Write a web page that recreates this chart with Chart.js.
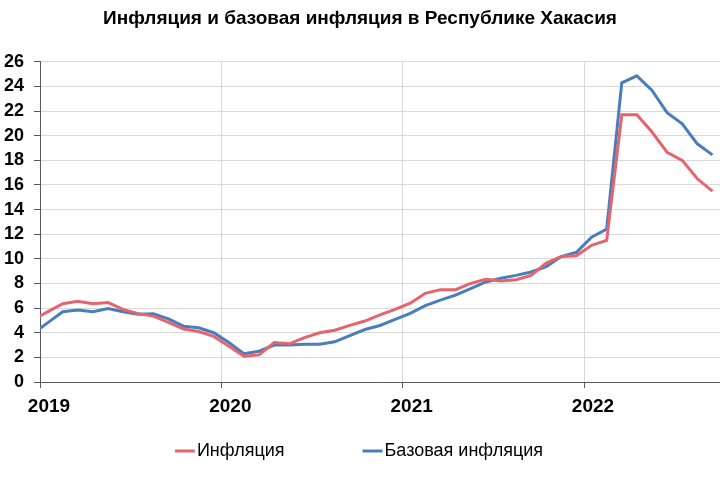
<!DOCTYPE html>
<html>
<head>
<meta charset="utf-8">
<script src="https://cdn.jsdelivr.net/npm/chart.js@4"></script>
<style>
  html, body { margin: 0; padding: 0; background: #fff; }
</style>
</head>
<body>
<canvas id="canvas" width="720" height="480"></canvas>
<script>
// monthly values, first one is Dec 2018 (mostly cut off by the axis), last Sep 2022
var firstMonth = -1; // months from Jan 2019
var years = ['2019', '2020', '2021', '2022'];
var inflation = [5.0,
  5.7, 6.35, 6.55, 6.35, 6.45, 5.9, 5.55, 5.35, 4.85, 4.3, 4.1, 3.7,
  2.9, 2.1, 2.2, 3.2, 3.1, 3.6, 4.0, 4.2, 4.6, 4.95, 5.45, 5.9,
  6.4, 7.2, 7.5, 7.5, 8.0, 8.35, 8.2, 8.3, 8.65, 9.65, 10.2, 10.25,
  11.1, 11.5, 21.7, 21.7, 20.3, 18.65, 18.0, 16.5, 15.5];
var coreInflation = [3.9,
  4.8, 5.7, 5.84, 5.7, 5.97, 5.7, 5.5, 5.54, 5.13, 4.53, 4.4, 4.0,
  3.2, 2.3, 2.5, 3.0, 3.0, 3.07, 3.07, 3.26, 3.77, 4.26, 4.59, 5.08,
  5.57, 6.2, 6.65, 7.05, 7.58, 8.12, 8.42, 8.66, 8.93, 9.37, 10.19, 10.53,
  11.76, 12.41, 24.29, 24.86, 23.68, 21.87, 20.97, 19.34, 18.44];
var yTicks = [0, 2, 4, 6, 8, 10, 12, 14, 16, 18, 20, 22, 24, 26];

function points(arr) {
  return arr.map(function(v, i) { return { x: firstMonth + i + 0.5, y: v }; });
}

// legend drawn by hand so the gap between the two items can match
var bottomLegend = {
  id: 'bottomLegend',
  afterDraw: function(chart) {
    var ctx = chart.ctx;
    var ds = chart.data.datasets;
    ctx.save();
    ctx.font = '18px "Liberation Sans", Arial, sans-serif';
    ctx.textBaseline = 'middle';
    var gap = 78, line = 20, pad = 2;
    var total = 0;
    ds.forEach(function(d, i) {
      total += line + pad + ctx.measureText(d.label).width + (i ? gap : 0);
    });
    var x = 359 - total / 2, y = 451;
    ds.forEach(function(d) {
      ctx.strokeStyle = d.borderColor;
      ctx.lineWidth = 3;
      ctx.beginPath();
      ctx.moveTo(x, y);
      ctx.lineTo(x + line, y);
      ctx.stroke();
      ctx.fillStyle = '#000';
      ctx.fillText(d.label, x + line + pad, y);
      x += line + pad + ctx.measureText(d.label).width + gap;
    });
    ctx.restore();
  }
};

var ctx = document.getElementById('canvas').getContext('2d');
var myChart = new Chart(ctx, {
  type: 'line',
  data: {
    datasets: [{
      label: 'Инфляция',
      data: points(inflation),
      borderColor: '#e5646d',
      borderWidth: 3,
      pointRadius: 0,
      tension: 0,
      clip: 0
    }, {
      label: 'Базовая инфляция',
      data: points(coreInflation),
      borderColor: '#4a7ebb',
      borderWidth: 3,
      pointRadius: 0,
      tension: 0,
      clip: 0
    }]
  },
  options: {
    responsive: false,
    animation: false,
    layout: { padding: { top: 0, right: 0, bottom: 58, left: 0 } },
    plugins: {
      legend: { display: false },
      tooltip: { enabled: false },
      title: {
        display: true,
        text: 'Инфляция и базовая инфляция в Республике Хакасия',
        color: '#000',
        font: { family: '"Liberation Sans", Arial, sans-serif', size: 19, weight: 'bold' },
        padding: { top: 7, bottom: 32 }
      }
    },
    scales: {
      x: {
        type: 'linear',
        min: 0,
        max: 45,
        afterBuildTicks: function(scale) {
          scale.ticks = years.map(function(y, i) { return { value: i * 12 }; });
        },
        afterFit: function(scale) { scale.height = 40; },
        ticks: {
          color: '#000',
          font: { family: '"Liberation Sans", Arial, sans-serif', size: 19, weight: 'bold' },
          padding: 7,
          labelOffset: 9,
          maxRotation: 0,
          callback: function(v) { return years[v / 12]; }
        },
        grid: { color: '#d9d9d9', tickColor: '#595959', tickLength: 6 },
        border: { color: '#595959', width: 1 }
      },
      y: {
        min: 0,
        max: 26,
        afterBuildTicks: function(scale) {
          scale.ticks = yTicks.map(function(v) { return { value: v }; });
        },
        afterFit: function(scale) { scale.width = 40; },
        ticks: {
          color: '#000',
          font: { family: '"Liberation Sans", Arial, sans-serif', size: 18, weight: 'bold' },
          padding: 10
        },
        grid: { color: '#d9d9d9', tickColor: '#595959', tickLength: 6 },
        border: { color: '#595959', width: 1 }
      }
    }
  },
  plugins: [bottomLegend]
});
</script>
</body>
</html>
